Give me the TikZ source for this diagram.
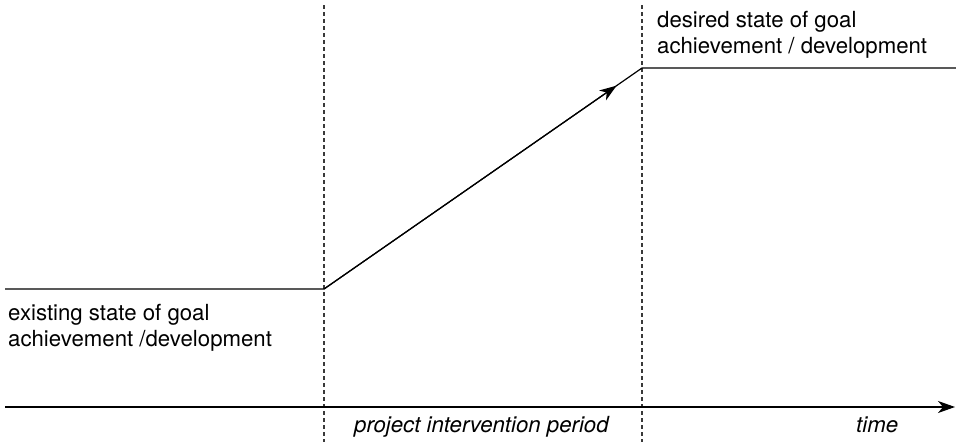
\documentclass[tikz,border=0pt]{standalone}
\usepackage{fontspec}
\setmainfont{TeX Gyre Heros}
\usetikzlibrary{arrows.meta,calc}
\begin{document}
\begin{tikzpicture}[x=1pt,y=-1pt,
  level/.style={line width=1.2pt,black},
  phase/.style={line width=1.1pt,gray!45!black,dash pattern=on 4pt off 3pt},
  tip/.style={-{Stealth[length=17pt,width=12pt,inset=5pt]}},
  label/.style={inner sep=0pt,anchor=base west,align=left,
    font=\fontsize{22.2}{26}\selectfont}]
  \useasboundingbox (0,0) rectangle (956,442);

  % time boundaries of the intervention
  \coordinate (startTop) at (324,5);
  \coordinate (startBot) at (324,442);
  \coordinate (endTop) at (642,5);
  \coordinate (endBot) at (642,442);
  \draw[phase] (startTop) -- (startBot);
  \draw[phase] (endTop) -- (endBot);

  % goal levels and the change between them
  \coordinate (lowL) at (5,289);
  \coordinate (lowR) at (324,289);
  \coordinate (highL) at (642,68);
  \coordinate (highR) at (956,68);
  \draw[level] (lowL) -- (lowR) -- (highL) -- (highR);
  \draw[level,tip] (lowR) -- ($(lowR)!0.92!(highL)$);

  % time axis
  \coordinate (axisL) at (5,407);
  \coordinate (axisR) at (955,407);
  \draw[level,tip] (axisL) -- (axisR);

  % labels (anchored on the baseline of their last line)
  \node[label] (existing) at (8,346) {existing state of goal\\achievement /development};
  \node[label] (desired) at (657,53) {desired state of goal\\achievement / development};
  \node[label,font=\fontsize{22.2}{26}\selectfont\itshape] (period) at (354,432) {project intervention period};
  \node[label,font=\fontsize{22.2}{26}\selectfont\itshape] (time) at (856,432) {time};
\end{tikzpicture}
\end{document}
